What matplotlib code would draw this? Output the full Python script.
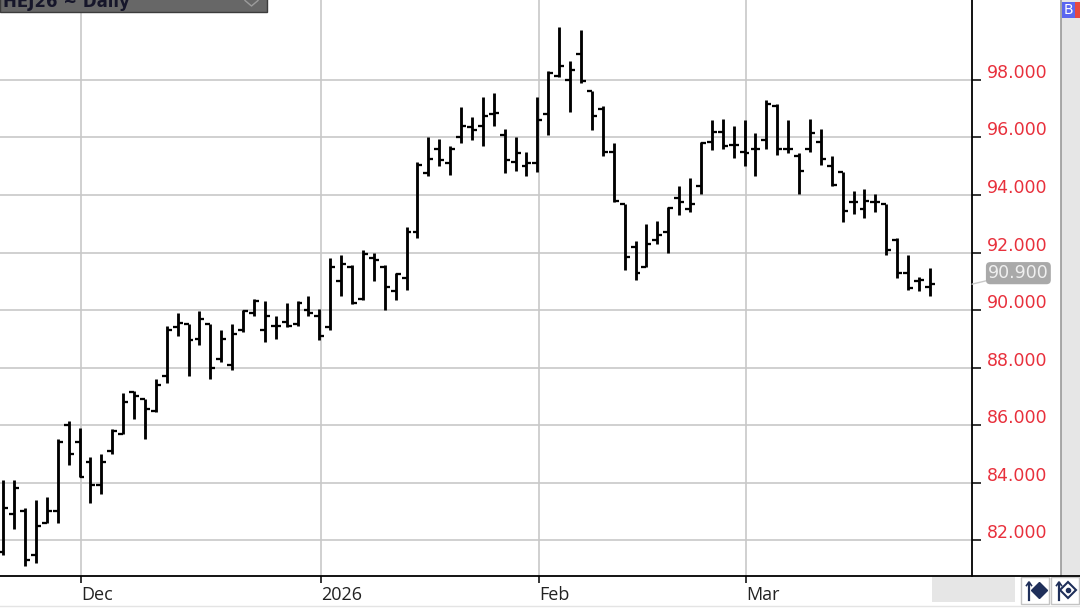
import numpy as np
import pandas as pd
import matplotlib
matplotlib.use('Agg')
import matplotlib.pyplot as plt
from matplotlib.collections import LineCollection
from matplotlib.patches import Rectangle

# trading days, Nov 19 2025 .. Mar 25 2026 (exchange holidays removed)
holidays = ['2025-11-27', '2025-12-25', '2026-01-01', '2026-01-19', '2026-02-16']
dates = pd.bdate_range('2025-11-19', '2026-03-25', freq='C', holidays=holidays)

opens = [81.6, 82.9, 83.0, 81.5, 82.6, 83.0, 86.0, 85.4, 84.7, 83.9,
         85.1, 85.7, 87.15, 86.9, 86.5, 87.7, 89.4, 89.5, 89.0, 89.5,
         88.3, 88.1, 89.3, 89.9, 89.3, 89.45, 89.6, 89.5, 90.0, 89.8,
         89.4, 91.0, 91.5, 90.4, 91.8, 91.5, 90.65, 91.1, 92.7, 94.75,
         95.6, 95.1, 96.0, 96.35, 96.4, 96.8, 96.1, 95.15, 95.0, 95.1,
         96.8, 98.15, 98.0, 98.9, 97.6, 97.0, 95.5, 93.7, 92.2, 91.5,
         92.45, 92.7, 93.9, 93.5, 94.3, 95.85, 96.2, 95.75, 95.5, 95.6,
         95.9, 97.1, 95.6, 95.35, 95.6, 95.85, 95.0, 94.8, 93.75, 93.5,
         93.75, 93.7, 92.45, 91.3, 91.0, 90.8]
highs = [84.1, 84.1, 83.1, 83.4, 83.5, 85.5, 86.15, 85.9, 84.9, 85.0,
         85.85, 87.1, 87.2, 86.9, 87.6, 89.45, 89.9, 89.5, 89.95, 89.5,
         89.3, 89.5, 90.0, 90.4, 90.3, 89.8, 90.25, 90.3, 90.5, 90.05,
         91.8, 91.9, 91.55, 92.1, 92.0, 91.55, 91.3, 92.9, 95.15, 96.0,
         95.95, 95.7, 97.05, 96.7, 97.4, 97.55, 96.3, 96.0, 95.5, 97.4,
         98.3, 99.85, 98.65, 99.75, 97.6, 97.1, 95.8, 93.7, 92.4, 93.0,
         93.1, 93.6, 94.3, 94.6, 95.85, 96.6, 96.65, 96.4, 96.6, 96.15,
         97.3, 97.15, 96.6, 95.45, 96.65, 96.3, 95.35, 94.8, 94.15, 94.2,
         94.05, 93.7, 92.5, 91.9, 91.15, 91.45]
lows = [81.5, 82.4, 81.1, 81.2, 82.6, 82.6, 84.6, 84.2, 83.3, 83.6,
        85.0, 85.7, 86.2, 85.5, 86.45, 87.45, 89.1, 87.7, 88.8, 87.6,
        88.2, 87.9, 89.25, 89.8, 88.9, 89.0, 89.4, 89.45, 89.8, 88.95,
        89.3, 90.5, 90.2, 90.35, 91.0, 90.0, 90.35, 90.7, 92.5, 94.65,
        95.0, 94.7, 95.8, 95.9, 95.7, 96.4, 94.75, 94.85, 94.65, 94.8,
        96.1, 98.1, 96.9, 97.9, 96.25, 95.35, 93.75, 91.4, 91.05, 91.5,
        92.3, 92.0, 93.3, 93.4, 94.05, 95.55, 95.6, 95.3, 95.0, 94.65,
        95.6, 95.4, 95.45, 94.05, 95.5, 95.05, 94.3, 93.05, 93.35, 93.2,
        93.4, 91.9, 91.1, 90.7, 90.65, 90.5]
closes = [83.1, 83.8, 81.3, 82.5, 83.0, 85.4, 85.0, 84.2, 83.9, 84.7,
          85.8, 86.8, 87.0, 86.55, 87.4, 89.3, 89.55, 88.95, 89.7, 88.0,
          89.0, 89.15, 89.95, 90.3, 89.8, 89.45, 89.45, 90.25, 89.9, 89.1,
          91.5, 91.6, 90.25, 91.95, 91.75, 90.8, 91.25, 92.7, 95.05, 95.25,
          95.2, 95.6, 96.4, 96.25, 96.75, 96.85, 95.2, 95.45, 95.1, 96.6,
          98.25, 98.5, 98.35, 97.95, 96.75, 95.5, 93.8, 91.85, 91.3, 92.3,
          92.6, 93.55, 93.75, 93.7, 95.8, 96.2, 95.7, 95.75, 95.45, 95.6,
          97.15, 95.6, 95.6, 94.85, 96.15, 95.25, 94.35, 93.45, 93.75, 93.8,
          93.75, 92.1, 91.3, 90.75, 91.05, 90.9]

price_ticks = [82, 84, 86, 88, 90, 92, 94, 96, 98]

W, H = 1080, 608
PLOT_R = 972       # right edge of price pane, px
PLOT_B = 575.5     # bottom edge of price pane, px

fig = plt.figure(figsize=(W / 100, H / 100), dpi=100)
fig.patch.set_facecolor('white')
ax = fig.add_axes([0, (H - PLOT_B) / H, PLOT_R / W, PLOT_B / H])

x = np.arange(len(dates))
month_idx = [i for i in range(1, len(dates)) if dates[i].month != dates[i - 1].month]
month_lbl = [str(dates[i].year) if dates[i].month == 1 else dates[i].strftime('%b')
             for i in month_idx]
grid_x = [i + 0.15 for i in month_idx]

ax.set_xlim(-0.3, 88.87)
ax.set_ylim(80.77, 100.78)

for v in price_ticks:
    ax.axhline(v, color='#c8c8c8', lw=1.2, zorder=0)
for gx in grid_x:
    ax.axvline(gx, color='#c8c8c8', lw=1.2, zorder=0)

# OHLC bars
tick_w = 0.45
vert = [[(xi, l), (xi, h)] for xi, l, h in zip(x, lows, highs)]
otk = [[(xi - tick_w, o), (xi, o)] for xi, o in zip(x, opens)]
ctk = [[(xi, c), (xi + tick_w, c)] for xi, c in zip(x, closes)]
ax.add_collection(LineCollection(vert, colors='black', linewidths=2.05, capstyle='butt', zorder=3))
ax.add_collection(LineCollection(otk + ctk, colors='black', linewidths=1.65, capstyle='butt', zorder=3))

for s in ['top', 'left']:
    ax.spines[s].set_visible(False)
ax.spines['right'].set_color('black')
ax.spines['right'].set_linewidth(1.3)
ax.spines['bottom'].set_visible(False)

ax.yaxis.tick_right()
ax.set_yticks(price_ticks)
ax.tick_params(axis='y', length=6.5, width=1.1, color='black', labelright=False, direction='out')
ax.set_xticks(grid_x)
ax.tick_params(axis='x', length=5, width=1.1, color='black', labelbottom=False, direction='out')

for v in price_ticks:
    ax.annotate(f'{v:.3f}', xy=(1, v), xycoords=('axes fraction', 'data'),
                xytext=(15, 2), textcoords='offset pixels', ha='left', va='baseline',
                color='#e8303c', fontsize=12.5, annotation_clip=False)

for gx, lbl in zip(grid_x, month_lbl):
    ax.annotate(lbl, xy=(gx, 0), xycoords=('data', 'axes fraction'),
                xytext=(0, -24.5), textcoords='offset pixels', ha='left', va='baseline',
                color='#222222', fontsize=13, family='Open Sans', annotation_clip=False)

# last price tag
ax.annotate(f'{closes[-1]:.3f}', xy=(1, closes[-1]), xycoords=('axes fraction', 'data'),
            xytext=(16, 11), textcoords='offset pixels', ha='left', va='center',
            color='#f0f0f0', fontsize=12.5,
            bbox=dict(boxstyle='round,pad=0.12,rounding_size=0.25', fc='#a9a9a9', ec='none'),
            arrowprops=dict(arrowstyle='-', color='#c8c8c8', lw=1, shrinkA=0, shrinkB=0),
            annotation_clip=False, zorder=6)

# window chrome, drawn in pixel coordinates
ov = fig.add_axes([0, 0, 1, 1], zorder=5)
ov.set_xlim(0, W)
ov.set_ylim(H, 0)
ov.axis('off')
ov.patch.set_alpha(0)

ov.add_patch(Rectangle((0, -2), 267, 14, fc='#676767', ec='#3c3c3c', lw=1))
ov.text(3, 7, 'HEJ26 ~ Daily', fontsize=12, fontweight='bold', color='#16162a', va='baseline')
ov.plot([245, 251.5, 258], [0.5, 6, 0.5], color='#9c9c9c', lw=1)

ov.add_patch(Rectangle((1061, 0), 19, PLOT_B, fc='#e6e6e6', ec='none'))
ov.plot([1061, 1061], [0, PLOT_B], color='#9a9a9a', lw=1.2)
ov.add_patch(Rectangle((1062, 2), 13, 16, fc='#5a67f0', ec='none'))
ov.add_patch(Rectangle((1075, 2), 5, 16, fc='#e8483f', ec='none'))
ov.text(1068.5, 10.5, 'B', color='white', fontsize=10, ha='center', va='center')

ov.plot([0, W], [PLOT_B, PLOT_B], color='black', lw=1.3)
ov.plot([0, W], [605.5, 605.5], color='#e4e4e4', lw=1)
ov.add_patch(Rectangle((932, 577), 83, 25, fc='#e6e6e6', ec='none'))
for bx in [1021, 1051]:
    ov.add_patch(Rectangle((bx, 577), 28, 27, fc='white', ec='#c4c4c4', lw=1))
navy = '#1f2f5a'
ov.plot([1029, 1029], [600, 583], color=navy, lw=1.6)
ov.plot([1026.5, 1029, 1031.5], [585.5, 582, 585.5], color=navy, lw=1.2)
ov.plot([1039], [590], marker='D', ms=8, color=navy)
ov.plot([1059, 1059], [600, 583], color=navy, lw=1.6)
ov.plot([1056.5, 1059, 1061.5], [585.5, 582, 585.5], color=navy, lw=1.2)
ov.plot([1068], [590], marker='D', ms=8, mfc='white', mec=navy, mew=1.5)
ov.plot([1068], [590], marker='o', ms=3, color=navy)

fig.savefig('out.png', dpi=100)
